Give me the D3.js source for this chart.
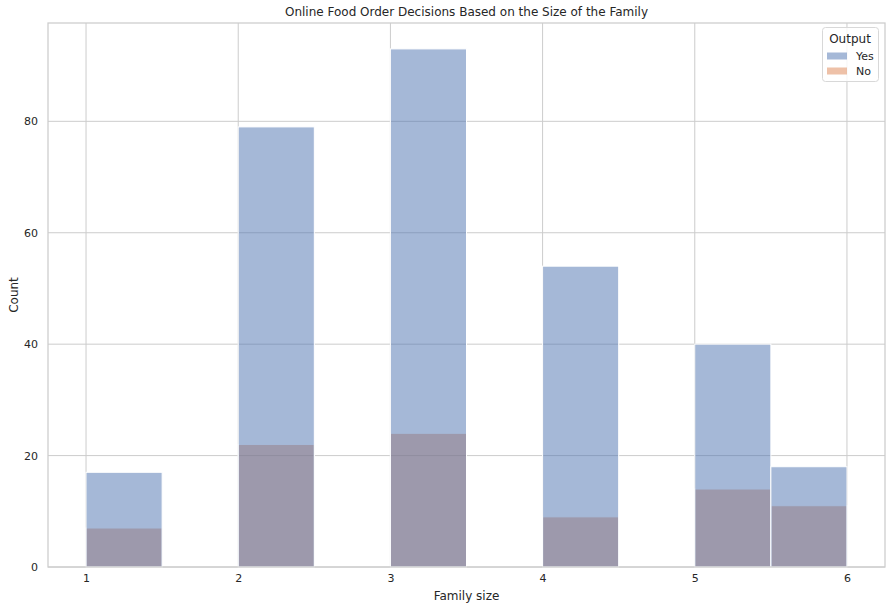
<!DOCTYPE html>
<html><head><meta charset="utf-8">
<script src="https://cdn.jsdelivr.net/npm/d3@7"></script>
<style>body{margin:0;background:#fff}svg{display:block}text{font-family:"DejaVu Sans",sans-serif;fill:#262626}</style>
</head><body><svg id="c" width="891" height="610"></svg>
<script>
const binEdges = [1,1.5,2,2.5,3,3.5,4,4.5,5,5.5,6];
const yesCounts = [17,0,79,0,93,0,54,0,40,18];
const noCounts  = [7,0,22,0,24,0,9,0,14,11];
const xTicks = [1,2,3,4,5,6];
const yTicks = [0,20,40,60,80];
const seriesNames = ["Yes","No"];
const seriesColors = ["#4c72b0","#dd8452"];

const svg = d3.select("#c");
const L=48,R=885,T=23,B=567;
const x = d3.scaleLinear().domain([0.75,6.25]).range([L,R]);
const y = d3.scaleLinear().domain([0,97.65]).range([B,T]);

// grid
const g = svg.append("g");
g.selectAll(".vg").data(xTicks).join("line").attr("x1",d=>x(d)).attr("x2",d=>x(d)).attr("y1",T).attr("y2",B).attr("stroke","#cccccc").attr("stroke-width",1);
g.selectAll(".hg").data(yTicks).join("line").attr("x1",L).attr("x2",R).attr("y1",d=>y(d)).attr("y2",d=>y(d)).attr("stroke","#cccccc").attr("stroke-width",1);

function drawBars(counts,color){
  const data = counts.map((c,i)=>({x0:binEdges[i],x1:binEdges[i+1],c})).filter(d=>d.c>0);
  svg.append("g").selectAll("rect").data(data).join("rect")
    .attr("x",d=>x(d.x0)).attr("width",d=>x(d.x1)-x(d.x0))
    .attr("y",d=>y(d.c)).attr("height",d=>y(0)-y(d.c))
    .attr("fill",color).attr("fill-opacity",0.5)
    .attr("stroke","#ffffff").attr("stroke-width",1);
}
drawBars(noCounts,seriesColors[1]);
drawBars(yesCounts,seriesColors[0]);

// spines
svg.append("rect").attr("x",L).attr("y",T).attr("width",R-L).attr("height",B-T).attr("fill","none").attr("stroke","#cccccc").attr("stroke-width",1.25);

// axes
const xa = d3.axisBottom(x).tickValues(xTicks).tickSize(0).tickPadding(7).tickFormat(d3.format("d"));
svg.append("g").attr("transform",`translate(0,${B})`).call(xa).call(s=>s.select(".domain").remove())
  .selectAll("text").attr("font-size",11).style("font-family","DejaVu Sans").attr("fill","#262626");
const ya = d3.axisLeft(y).tickValues(yTicks).tickSize(0).tickPadding(10);
svg.append("g").attr("transform",`translate(${L},0)`).call(ya).call(s=>s.select(".domain").remove())
  .selectAll("text").attr("font-size",11).style("font-family","DejaVu Sans").attr("fill","#262626");

svg.append("text").attr("x",(L+R)/2).attr("y",16).attr("text-anchor","middle").attr("font-size",12).text("Online Food Order Decisions Based on the Size of the Family");
svg.append("text").attr("x",(L+R)/2).attr("y",600).attr("text-anchor","middle").attr("font-size",12).text("Family size");
svg.append("text").attr("transform",`translate(18,${(T+B)/2}) rotate(-90)`).attr("text-anchor","middle").attr("font-size",12).text("Count");

// legend
const lg = svg.append("g");
lg.append("rect").attr("x",822.5).attr("y",27.5).attr("width",56).attr("height",54).attr("rx",3).attr("fill","#ffffff").attr("fill-opacity",0.8).attr("stroke","#d8d8d8");
lg.append("text").attr("x",850).attr("y",43).attr("text-anchor","middle").attr("font-size",12).text("Output");
seriesNames.forEach((n,i)=>{
  const yy = 56 + i*15;
  lg.append("rect").attr("x",827).attr("y",yy-3.5).attr("width",20).attr("height",7).attr("fill",seriesColors[i]).attr("fill-opacity",0.5);
  lg.append("text").attr("x",856).attr("y",yy+4).attr("font-size",11).text(n);
});
</script></body></html>
